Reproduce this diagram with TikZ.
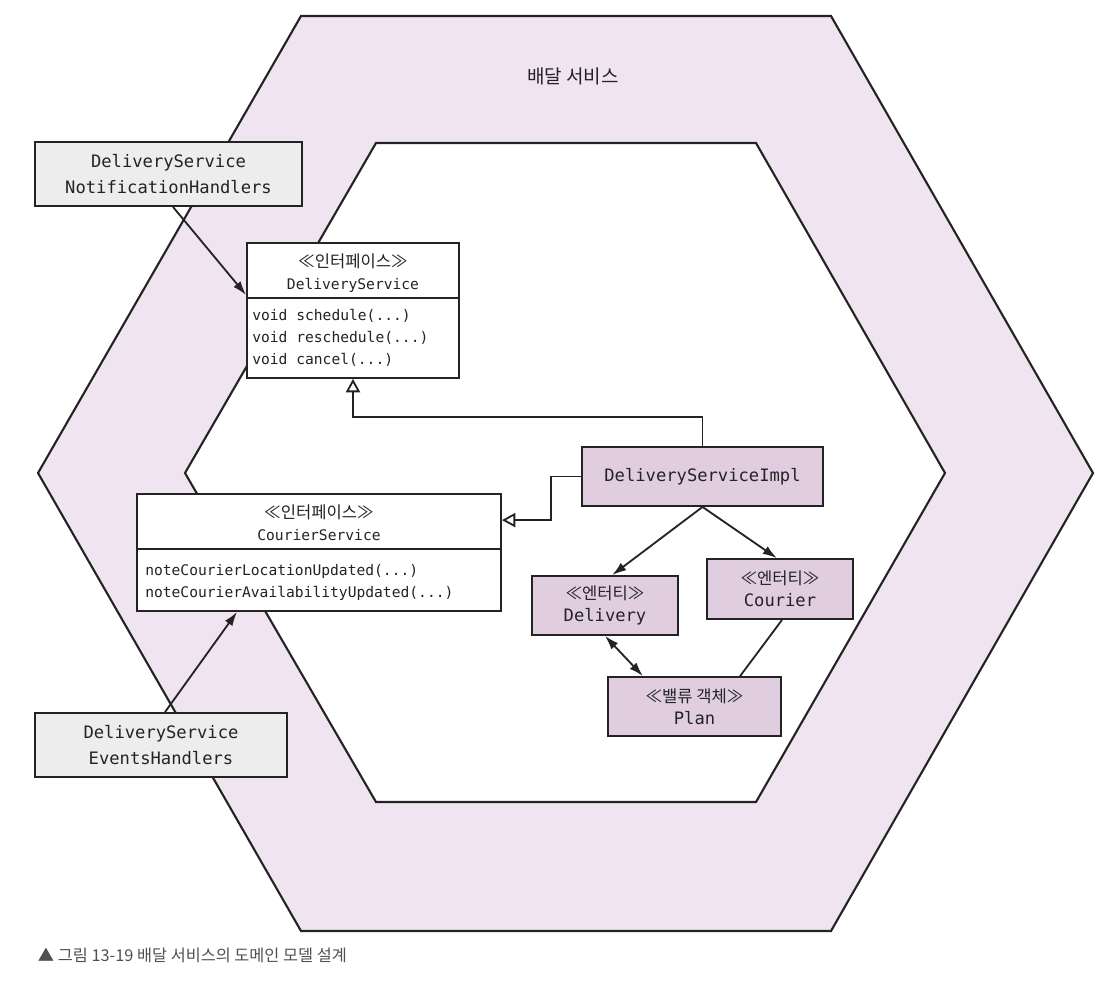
\documentclass[tikz,border=0pt]{standalone}
\usepackage{fontspec}
\setmonofont{DejaVu Sans Mono}
\newfontfamily\kr{Noto Sans CJK KR}
\usetikzlibrary{arrows.meta,positioning}

\definecolor{hexfill}{RGB}{239,228,239}
\definecolor{entityfill}{RGB}{224,206,224}
\definecolor{handlerfill}{RGB}{237,237,237}
\definecolor{ink}{RGB}{35,35,35}
\definecolor{captiongray}{RGB}{80,80,80}

\newcommand{\stereo}[1]{{\kr\fontsize{11.8}{15}\selectfont ≪#1≫}}

\begin{document}
\begin{tikzpicture}[
x=0.025cm, y=-0.025cm,
font=\ttfamily\fontsize{12.2}{18}\selectfont,
>={Latex[length=10pt,width=6.5pt]},
hexagon/.style={draw=ink,line width=1.5pt,line join=miter},
handler/.style={rectangle,draw=ink,fill=handlerfill,line width=1.3pt,align=center,text=ink},
entity/.style={rectangle,draw=ink,fill=entityfill,line width=1.3pt,align=center,text=ink,font=\ttfamily\fontsize{12.2}{15.5}\selectfont},
iface/.style={rectangle,draw=ink,fill=white,line width=1.3pt},
ifacetext/.style={inner sep=0pt,text=ink,font=\ttfamily\fontsize{10.4}{15.5}\selectfont},
divider/.style={draw=ink,line width=1.3pt},
dep/.style={draw=ink,line width=1.3pt,->},
assoc/.style={draw=ink,line width=1.3pt},
realize/.style={draw=ink,line width=1.3pt,-{Triangle[length=9.5pt,width=10pt,fill=white]}}
]

\useasboundingbox (0,0) rectangle (1114,1000);

% Hexagons
\draw [hexagon,fill=hexfill] (301,16) -- (831,16) -- (1093,473) -- (831,931) -- (301,931) -- (38,473) -- cycle;
\draw [hexagon,fill=white] (376,143) -- (756,143) -- (945,473) -- (756,802) -- (376,802) -- (185,473) -- cycle;
\node [text=ink,font=\kr\fontsize{13.5}{16}\selectfont] (title) at (573,76) {배달 서비스};

% Interfaces
\node [iface,minimum width=5.3cm,minimum height=3.375cm] (ds) at (353,310.5) {};
\node [ifacetext,align=center] (ds-name) at (353,273) {\stereo{인터페이스}\\DeliveryService};
\draw [divider] (ds.west |- 0,298) -- (ds.east |- 0,298);
\node [ifacetext,align=left,anchor=west] (ds-ops) at (252,338) {void schedule(...)\\void reschedule(...)\\void cancel(...)};

\node [iface,minimum width=9.1cm,minimum height=2.925cm] (cs) at (319,552.5) {};
\node [ifacetext,align=center] (cs-name) at (319,523) {\stereo{인터페이스}\\CourierService};
\draw [divider] (cs.west |- 0,549) -- (cs.east |- 0,549);
\node [ifacetext,align=left,anchor=west] (cs-ops) at (145,582.5) {noteCourierLocationUpdated(...)\\noteCourierAvailabilityUpdated(...)};

% Adapters
\node [handler,minimum width=6.675cm,minimum height=1.6cm] (notif) at (168.5,174) {DeliveryService\\NotificationHandlers};
\node [handler,minimum width=6.3cm,minimum height=1.6cm] (events) at (161,745) {DeliveryService\\EventsHandlers};

% Domain model
\node [entity,minimum width=6.025cm,minimum height=1.475cm] (impl) at (702.5,476.5) {DeliveryServiceImpl};
\node [entity,minimum width=3.65cm,minimum height=1.475cm] (delivery) at (605,605.5) {\stereo{엔터티}\\Delivery};
\node [entity,minimum width=3.65cm,minimum height=1.5cm] (courier) at (780,589) {\stereo{엔터티}\\Courier};
\node [entity,minimum width=4.325cm,minimum height=1.475cm] (plan) at (694.5,706.5) {\stereo{밸류 객체}\\Plan};

% Connectors
\draw [realize] (impl.north) -- ++(0,-29) -| (ds.south);
\draw [realize] (impl.west) -- ++(-30,0) |- ([yshift=0.81cm]cs.east);
\draw [dep] (impl.south) -- ([xshift=0.18cm]delivery.north);
\draw [dep] (impl.south) -- ([xshift=-0.08cm]courier.north);
\draw [dep,<->] (delivery.south) -- ([xshift=-1.29cm]plan.north);
\draw [assoc] ([xshift=0.05cm]courier.south) -- ([xshift=1.14cm]plan.north);
\draw [dep] (notif.south -| 173,0) -- (ds.west |- 0,295);
\draw [dep] (events.north -| 165,0) -- (cs.south -| 237,0);

\node [anchor=west,text=captiongray,font=\kr\fontsize{11.6}{14}\selectfont] (caption) at (33,955) {▲ 그림 13-19 배달 서비스의 도메인 모델 설계};
\end{tikzpicture}
\end{document}
